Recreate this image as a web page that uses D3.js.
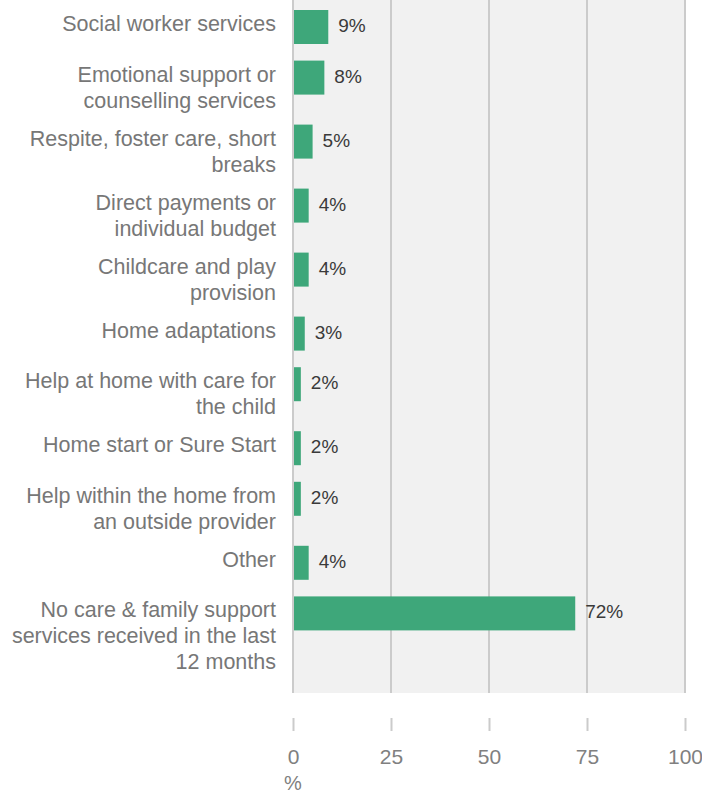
<!DOCTYPE html>
<html>
<head>
<meta charset="utf-8">
<script src="https://cdn.jsdelivr.net/npm/d3@7"></script>
<style>
  html, body { margin: 0; padding: 0; background: #ffffff; }
  svg { display: block; font-family: "Liberation Sans", Arial, Helvetica, sans-serif; }
</style>
</head>
<body>
<svg id="chart" width="702" height="795"></svg>
<script>
// Care & family support services received (% of respondents)
const categories = [
  "Social worker services",
  "Emotional support or\ncounselling services",
  "Respite, foster care, short\nbreaks",
  "Direct payments or\nindividual budget",
  "Childcare and play\nprovision",
  "Home adaptations",
  "Help at home with care for\nthe child",
  "Home start or Sure Start",
  "Help within the home from\nan outside provider",
  "Other",
  "No care & family support\nservices received in the last\n12 months"
];
const values = [9, 8, 5, 4, 4, 3, 2, 2, 2, 4, 72];
const xTicks = [0, 25, 50, 75, 100];
const axisTitle = "%";

const svg = d3.select("#chart");

const plot = { left: 292, right: 686, top: 0, bottom: 693 };
const barH = 34;
const lineH = 26;

// each row grows with the number of label lines
const lines = categories.map(c => c.split("\n"));
const rowH = lines.map(l => Math.max(50.6, l.length * lineH + 12));
const tops = [];
rowH.reduce((acc, h) => { tops.push(acc); return acc + h; }, 10);

const x = d3.scaleLinear().domain([0, 100]).range([293, 685]);
const y = d3.scaleOrdinal().domain(categories).range(tops);

// plot background
svg.append("rect")
  .attr("x", plot.left).attr("y", plot.top)
  .attr("width", plot.right - plot.left).attr("height", plot.bottom - plot.top)
  .attr("fill", "#f1f1f1");

// vertical grid lines
svg.append("g").selectAll("line").data(xTicks).join("line")
  .attr("x1", d => x(d)).attr("x2", d => x(d))
  .attr("y1", plot.top).attr("y2", plot.bottom)
  .attr("stroke", "#cbcbcb").attr("stroke-width", 2);

// bars
svg.append("g").selectAll("rect").data(values).join("rect")
  .attr("x", x(0) + 1)
  .attr("y", (d, i) => y(categories[i]))
  .attr("width", d => x(d) - x(0) - 1)
  .attr("height", barH)
  .attr("fill", "#3ea77a");

// value labels
svg.append("g").selectAll("text").data(values).join("text")
  .attr("x", d => x(d) + 10)
  .attr("y", (d, i) => y(categories[i]) + 22)
  .attr("font-size", 19)
  .attr("fill", "#3a3a3a")
  .text(d => d + "%");

// category labels
const cat = svg.append("g").selectAll("text").data(categories).join("text")
  .attr("x", 276)
  .attr("y", d => y(d) + 21)
  .attr("text-anchor", "end")
  .attr("font-size", 21.5)
  .attr("fill", "#777777");
cat.selectAll("tspan").data(d => d.split("\n")).join("tspan")
  .attr("x", 276)
  .attr("dy", (d, i) => i === 0 ? 0 : lineH)
  .text(d => d);

// bottom axis
const axis = svg.append("g")
  .attr("transform", "translate(0,718)")
  .call(d3.axisBottom(x).tickValues(xTicks).tickSize(13).tickPadding(18).tickFormat(d3.format("d")));
axis.select(".domain").remove();
axis.selectAll(".tick line").attr("stroke", "#cbcbcb").attr("stroke-width", 2);
axis.selectAll(".tick text")
  .attr("font-size", 21)
  .attr("font-family", "Liberation Sans, Arial, sans-serif")
  .attr("fill", "#808080");

svg.append("text")
  .attr("x", x(0))
  .attr("y", 790)
  .attr("text-anchor", "middle")
  .attr("font-size", 20)
  .attr("fill", "#808080")
  .text(axisTitle);
</script>
</body>
</html>
